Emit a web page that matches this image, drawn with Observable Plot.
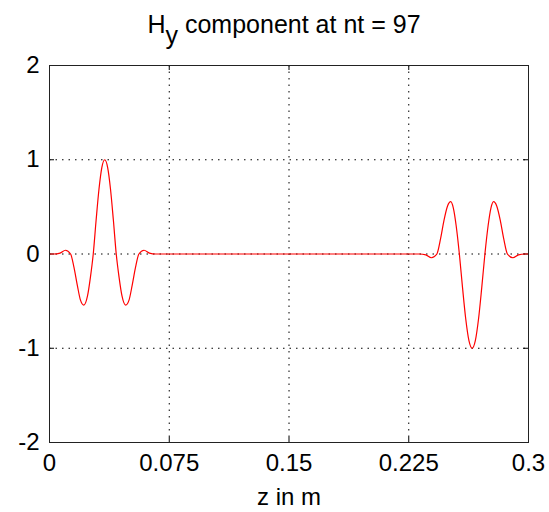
<!DOCTYPE html>
<html><head><meta charset="utf-8">
<script src="https://cdn.jsdelivr.net/npm/d3@7"></script>
<script src="https://cdn.jsdelivr.net/npm/@observablehq/plot@0.6"></script>
<style>
body{margin:0;background:#fff;}
#title{height:50px;box-sizing:border-box;padding-top:12px;padding-left:40px;padding-right:21px;text-align:center;font-family:'Liberation Sans',Arial,sans-serif;font-size:25px;line-height:24px;white-space:nowrap;color:#000;}
#title .sub{position:relative;top:11px;}
</style></head><body>
<div id="title">H<span class="sub">y</span> component at nt = 97</div>
<div id="chart"></div>
<script>
const titleText = "component at nt = 97";
const xLabelText = "z in m";
const xTicks = [0, 0.075, 0.15, 0.225, 0.3];
const xTickLabels = ["0", "0.075", "0.15", "0.225", "0.3"];
const yTicks = [-2, -1, 0, 1, 2];

const z = [0, 0.0026, 0.0066, 0.0100, 0.0132, 0.0153, 0.0174, 0.0194, 0.0215, 0.0238, 0.0256, 0.0274, 0.0292, 0.0310, 0.0328, 0.0346, 0.0364, 0.0382, 0.0400, 0.0418, 0.0436, 0.0454, 0.0477, 0.0498, 0.0518, 0.0539, 0.0560, 0.0592, 0.0626, 0.0666,
  0.2317, 0.2357, 0.2392, 0.2426, 0.2449, 0.2471, 0.2493, 0.2513, 0.2529, 0.2547, 0.2567, 0.2587, 0.2607, 0.2627, 0.2647, 0.2667, 0.2687, 0.2707, 0.2727, 0.2747, 0.2765, 0.2781, 0.2801, 0.2823, 0.2845, 0.2868, 0.2902, 0.2937, 0.2977, 0.3];
const hy = [0, 0, 0.01, 0.04, 0, -0.14, -0.33, -0.49, -0.543, -0.445, -0.25, 0, 0.36, 0.69, 0.92, 1.0, 0.92, 0.69, 0.36, 0, -0.25, -0.445, -0.543, -0.49, -0.33, -0.14, 0, 0.04, 0.01, 0,
  0, -0.01, -0.04, 0, 0.16, 0.36, 0.51, 0.555, 0.49, 0.30, 0, -0.36, -0.69, -0.92, -1.0, -0.92, -0.69, -0.36, 0, 0.30, 0.49, 0.555, 0.51, 0.36, 0.16, 0, -0.04, -0.01, 0, 0];

const data = z.map((v, i) => ({z: v, hy: hy[i]}));

const W = 549, H = 462, mt = 15, mb = 70, ml = 49, mr = 21;
const fh = H - mt - mb, fw = W - ml - mr, tk = 5;

const chart = Plot.plot({
  width: W, height: H,
  marginTop: mt, marginBottom: mb, marginLeft: ml, marginRight: mr,
  style: {fontFamily: "'Liberation Sans', Arial, sans-serif", fontSize: "24px", background: "#fff", color: "#000"},
  x: {domain: [0, 0.3]},
  y: {domain: [-2, 2]},
  marks: [
    Plot.gridX(xTicks, {stroke: "#000", strokeOpacity: 1, strokeDasharray: "1.5,5"}),
    Plot.gridY(yTicks, {stroke: "#000", strokeOpacity: 1, strokeDasharray: "1.5,5"}),
    Plot.tickX(xTicks, {x: d => d, stroke: "#000", insetBottom: fh - tk}),
    Plot.tickX(xTicks, {x: d => d, stroke: "#000", insetTop: fh - tk}),
    Plot.tickY(yTicks, {y: d => d, stroke: "#000", insetRight: fw - tk}),
    Plot.tickY(yTicks, {y: d => d, stroke: "#000", insetLeft: fw - tk}),
    Plot.line(data, {x: "z", y: "hy", stroke: "#ff0000", strokeWidth: 1.2, curve: "monotone-x"}),
    Plot.frame({stroke: "#222"}),
    Plot.axisX(xTicks, {tickSize: 0, tickPadding: 11, fontSize: 24, label: null, tickFormat: d => xTickLabels[xTicks.indexOf(d)]}),
    Plot.axisY(yTicks, {tickSize: 0, tickPadding: 10, fontSize: 24, label: null, tickFormat: d => String(d)}),
    Plot.text([xLabelText], {text: d => d, frameAnchor: "bottom", dy: 55, fontSize: 24, lineAnchor: "middle"})
  ]
});
document.getElementById("chart").appendChild(chart);
</script>
</body></html>
